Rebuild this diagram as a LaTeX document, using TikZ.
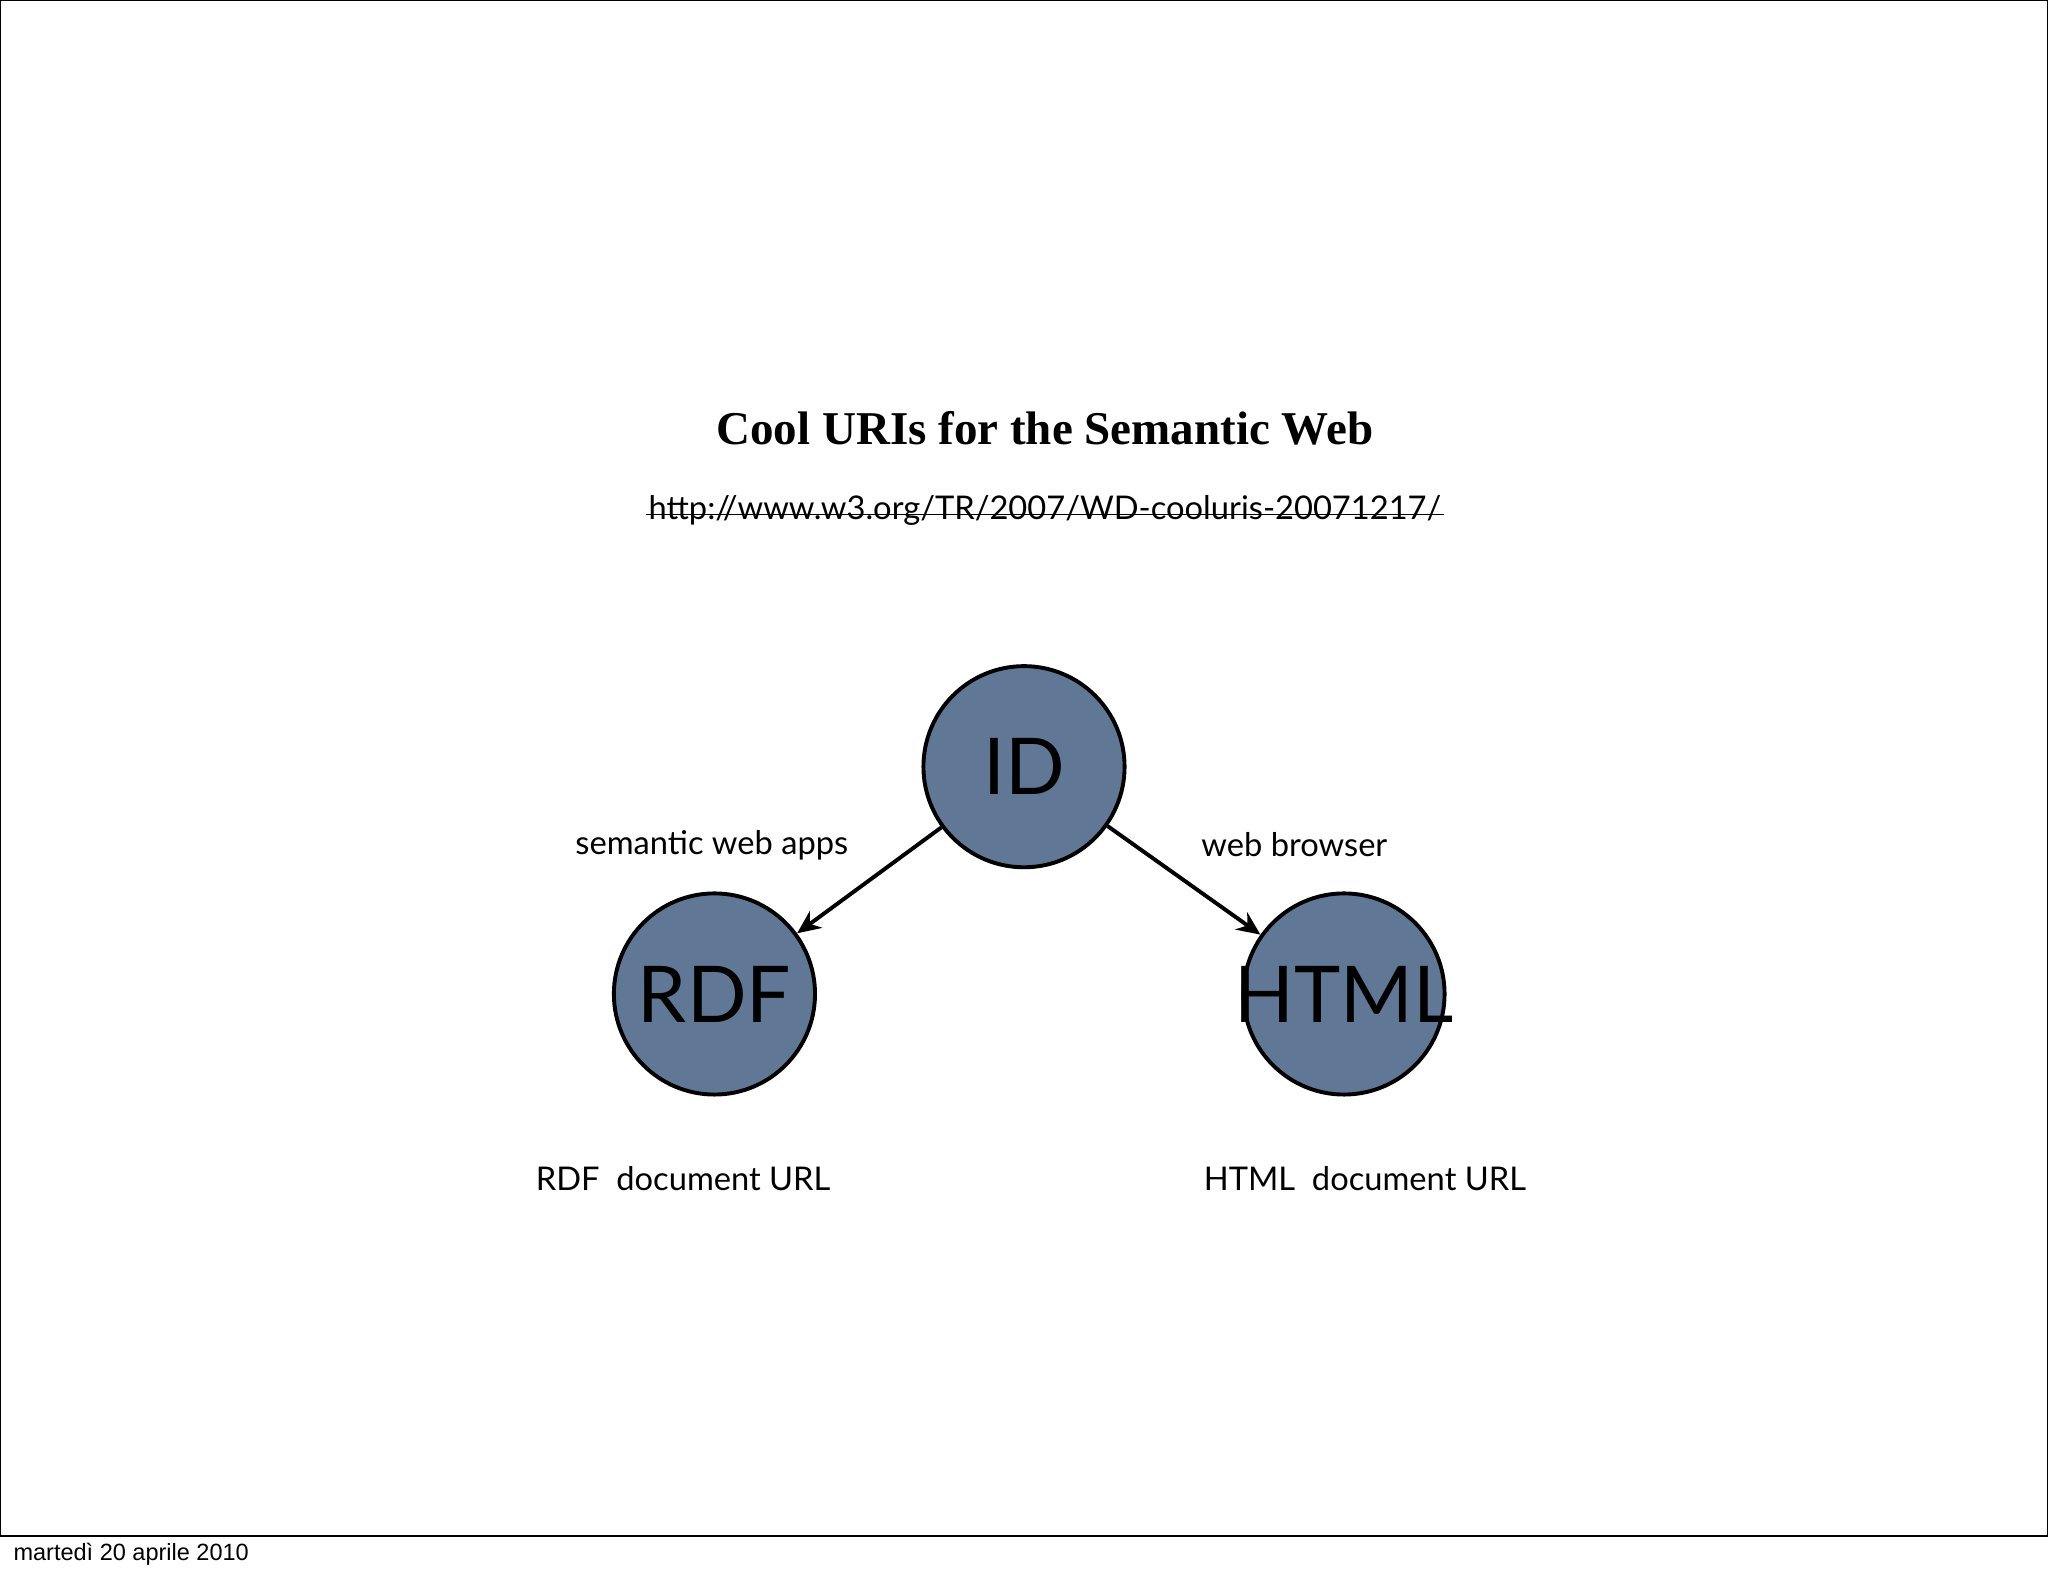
\documentclass[tikz,border=0pt]{standalone}
\usepackage{fontspec}
\setmainfont{Lato}
\newfontfamily\titlefont{Liberation Serif}
\newfontfamily\footfont{Liberation Sans}
\usetikzlibrary{arrows.meta}
\definecolor{ballblue}{RGB}{96,120,150}
\tikzset{
  ball/.style={circle,draw,line width=1.5pt,fill=ballblue,minimum size=77pt,inner sep=0pt},
  balltext/.style={font=\fontsize{30}{30}\selectfont},
  caption/.style={font=\fontsize{12.5}{14}\selectfont,inner sep=0.75pt},
  link/.style={-{Stealth[length=9pt,width=8pt]},line width=1.5pt}
}
\begin{document}
\begin{tikzpicture}[x=0.5pt,y=0.5pt,yscale=-1]
\useasboundingbox (0,0) rectangle (1568,1207);
% frame
\draw[line width=0.6pt] (0.5,0.5) rectangle (1567.5,1176);
% Title
\node (title) at (800,328) {\titlefont\bfseries\fontsize{18}{20}\selectfont Cool URIs for the Semantic Web};
\node[caption,anchor=base] (url) at (800,398) {http://www.w3.org/TR/2007/WD-cooluris-20071217/};
\draw[line width=0.5pt] ([yshift=-2pt]url.base west) -- ([yshift=-2pt]url.base east);
% circles
\node[ball,label={[balltext]center:ID}] (id) at (784,587) {};
\node[ball,label={[balltext]center:RDF}] (rdf) at (547,761) {};
\node[ball,label={[balltext]center:HTML}] (html) at (1029,761) {};
% arrows
\draw[link] (id) -- (rdf);
\draw[link] (id) -- (html);
% labels
\node[caption] (semapps) at (545,647) {semantic web apps};
\node[caption] (browser) at (991,647) {web browser};
\node[caption] (rdfurl) at (523,902) {RDF\ \ document URL};
\node[caption] (htmlurl) at (1045,902) {HTML\ \ document URL};
% footer
\node[anchor=west,inner sep=0pt] (date) at (10,1190) {\footfont\fontsize{9}{10}\selectfont martedì 20 aprile 2010};
\end{tikzpicture}
\end{document}
